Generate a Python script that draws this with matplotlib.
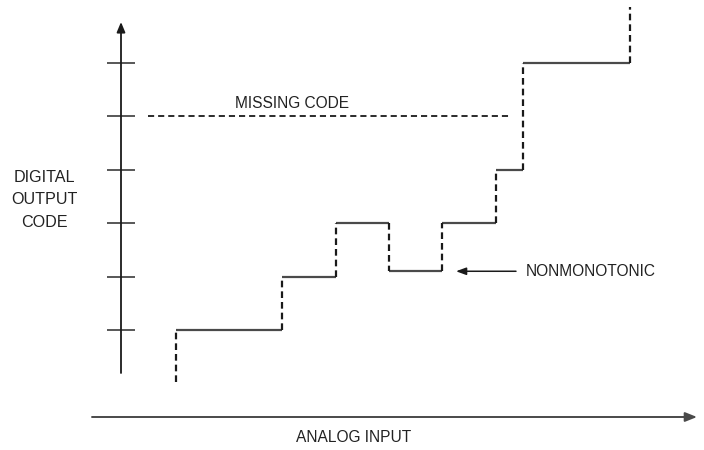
import matplotlib
matplotlib.use("Agg")
import matplotlib.pyplot as plt

plt.rcParams['font.family'] = ['Liberation Sans', 'DejaVu Sans']

# transfer function: code transitions (in LSB of analog input) and output levels
edges = [1.03, 3.02, 4.03, 5.02, 6.01, 7.02, 7.53, 9.53]
levels = [0.03, 1, 2, 3, 2.1, 3, 4, 6, 7.05]
tick_codes = [1, 2, 3, 4, 5, 6]
missing_code = 5
missing_span = [0.51, 7.28]
nonmono_level = 2.1

# pixel layout -> data units
U = 53.4          # pixels per LSB / per code
X0 = 121.0        # pixel x of the vertical axis
Y0 = 383.4        # pixel y of code 0
W, H = 704, 450

def px(x):
    return (x - X0) / U

def py(y):
    return (Y0 - y) / U

fig = plt.figure(figsize=(7.04, 4.5), dpi=100)
fig.patch.set_facecolor('white')
ax = fig.add_axes([0, 0, 1, 1])
ax.set_xlim(px(0), px(W))
ax.set_ylim(py(H), py(0))
ax.axis('off')

dark = '#1a1a1a'
grey = '#4a4a4a'
txt = '#222222'

# vertical axis with arrow
ax.annotate('', xy=(0, py(22)), xytext=(0, py(373)),
            arrowprops=dict(arrowstyle='-|>,head_length=0.6,head_width=0.25',
                            color=dark, lw=1.3, shrinkA=0, shrinkB=0))
# horizontal axis with arrow
ax.annotate('', xy=(px(697), py(417)), xytext=(px(92), py(417)),
            arrowprops=dict(arrowstyle='-|>,head_length=0.7,head_width=0.28',
                            color=grey, lw=1.4, shrinkA=0, shrinkB=0))

# code ticks
for c in tick_codes:
    ax.plot([px(107), px(135)], [c, c], color=grey, lw=1.3, solid_capstyle='butt')

# steps: horizontal solid, vertical dashed
for i in range(len(edges) - 1):
    ax.plot([edges[i], edges[i + 1]], [levels[i + 1], levels[i + 1]],
            color=grey, lw=1.6, solid_capstyle='butt')
for i in range(len(edges)):
    ax.plot([edges[i], edges[i]], [levels[i], levels[i + 1]],
            color=dark, lw=1.6, dashes=(3.0, 1.8))

# missing code line
ax.plot(missing_span, [missing_code, missing_code], color=dark, lw=1.3,
        dashes=(3.4, 2.2))

fs = 11.2
ax.text(px(235), py(104), 'MISSING CODE', fontsize=fs, color=txt,
        ha='left', va='center')
ax.text(px(526), nonmono_level, 'NONMONOTONIC', fontsize=fs, color=txt,
        ha='left', va='center')
ax.annotate('', xy=(px(456), nonmono_level), xytext=(px(516), nonmono_level),
            arrowprops=dict(arrowstyle='-|>,head_length=0.6,head_width=0.22',
                            color=dark, lw=1.1, shrinkA=0, shrinkB=0))
ax.text(px(44), py(200), 'DIGITAL\nOUTPUT\nCODE', fontsize=11.6, color=txt,
        ha='center', va='center', multialignment='center', linespacing=1.6)
ax.text(px(354), py(438), 'ANALOG INPUT', fontsize=fs, color=txt,
        ha='center', va='center')

fig.savefig('out.png', dpi=100, facecolor='white')
